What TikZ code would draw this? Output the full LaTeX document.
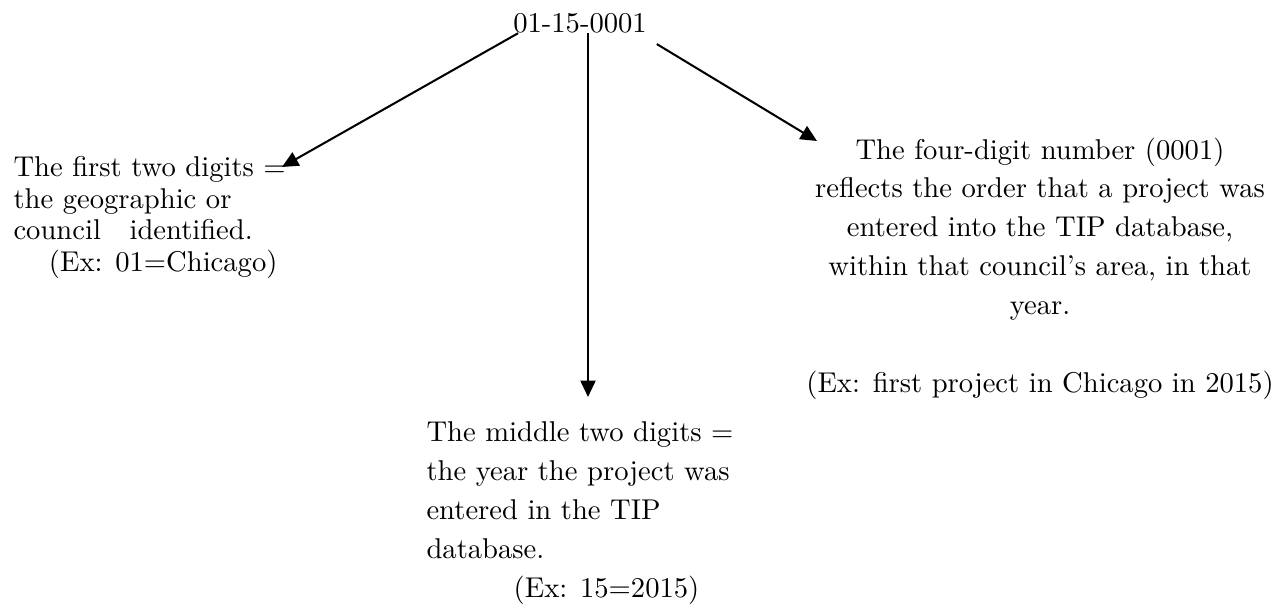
\documentclass[tikz,border=0pt]{standalone}
\usepackage{xcolor}
\usetikzlibrary{arrows.meta,positioning}

\begin{document}
\begin{tikzpicture}[x=0.367pt, y=-0.367pt, font=\fontsize{10.5}{14.3}\selectfont]

    % --- STYLES ---
    \tikzset{digitnote/.style={inner sep=0pt, align=left, text=black}}
    \tikzset{digitarrow/.style={draw=black, line width=0.75pt, -{Triangle[length=6pt, width=5.5pt]}}}

    \useasboundingbox (0,0) rectangle (1281,605);

    % --- PROJECT NUMBER ---
    \node[digitnote, anchor=base] (num) at (580,32) {01-15-0001};

    % --- THE THREE PARTS ---
    \node[digitnote, anchor=north west, font=\fontsize{10.5}{11.6}\selectfont] (council) at (13,156)
        {The first two digits =\\the geographic or\\council\ \ \ identified.\\\hspace*{13pt}(Ex: 01=Chicago)};
    \node[digitnote, anchor=north west] (year) at (426,421)
        {The middle two digits =\\the year the project was\\entered in the TIP\\database.\\\hspace*{32pt}(Ex: 15=2015)};
    \node[digitnote, align=center, anchor=north] (order) at (1040,137)
        {The four-digit number (0001)\\reflects the order that a project was\\entered into the TIP database,\\within that council's area, in that\\year.\\[14.3pt](Ex: first project in Chicago in 2015)};

    % --- ARROWS ---
    \coordinate (ctip) at (282,167);
    \coordinate (ytip) at (588,397);
    \coordinate (otip) at (817,141);
    \draw[digitarrow] ([xshift=2pt]num.south west) -- (ctip);
    \draw[digitarrow] (num.south -| ytip) -- (ytip);
    \draw[digitarrow] ([shift={(3.5pt,-4pt)}]num.south east) -- (otip);

\end{tikzpicture}
\end{document}
